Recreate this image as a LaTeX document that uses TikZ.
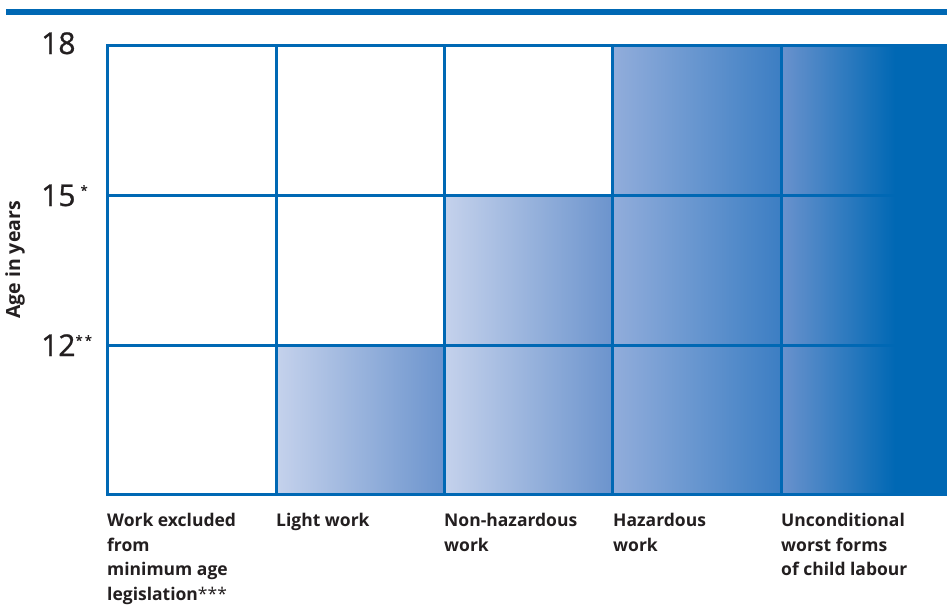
\documentclass[tikz,border=0pt]{standalone}
\usepackage{fontspec}
\setmainfont{Open Sans}
\newfontfamily\numfont[FakeBold=0.9]{Open Sans}
\definecolor{ilo}{HTML}{0068B4}
\definecolor{txt}{HTML}{231F20}
\definecolor{ga}{HTML}{C5D2EC}
\definecolor{gb}{HTML}{6C94CD}
\definecolor{gc}{HTML}{92ADDB}
\definecolor{gd}{HTML}{3C7EC3}
\definecolor{ge}{HTML}{6A92CD}
\tikzset{
  gridline/.style={draw=ilo, line width=3pt},
  agelabel/.style={text=txt, inner sep=0pt, font=\numfont\fontsize{30}{30}\selectfont},
  collabel/.style={text=txt, inner sep=0pt, anchor=north west, align=left,
    font=\fontsize{17.5}{24.7}\selectfont\bfseries},
}
\begin{document}
\begin{tikzpicture}[x=1pt,y=-1pt]
\useasboundingbox (0,0) rectangle (947,605);
\fill[white] (0,0) rectangle (947,605);
% top bar
\fill[ilo] (6,8.5) rectangle (947,14.5);
% shaded cells
\shade[left color=ga, right color=gb] (276,345) rectangle (444,494);
\shade[left color=ga, right color=gb] (444,195) rectangle (612,494);
\shade[left color=gc, right color=gd] (612,45) rectangle (781,494);
\shade[left color=ge, right color=ilo] (781,45) rectangle (895,494);
\fill[ilo] (894.5,45) rectangle (947,494);
% grid
\draw[gridline] (947,45) -- (107,45) -- (107,494) -- (947,494);
\foreach \x in {276,444,612,781} \draw[gridline] (\x,45) -- (\x,494);
\foreach \y in {195,345} \draw[gridline] (107,\y) -- (947,\y);
% age labels
\node[agelabel, anchor=base west] (a18) at (41,54) {18};
\node[agelabel, anchor=base west] (a15) at (41,206) {15\,\raisebox{11pt}{\fontsize{13}{13}\selectfont *}};
\node[agelabel, anchor=base west] (a12) at (41,356) {12\raisebox{11pt}{\fontsize{13}{13}\selectfont *\,*}};
\node[text=txt, rotate=90, font=\fontsize{19.5}{19.5}\selectfont\bfseries] (axis) at (15,260) {Age in years};
% column labels
\node[collabel] (c1) at (107,513) {Work excluded\\from\\minimum age\\legislation{\mdseries***}};
\node[collabel] (c2) at (276,513) {Light work};
\node[collabel] (c3) at (444,513) {Non-hazardous\\work};
\node[collabel] (c4) at (613,513) {Hazardous\\work};
\node[collabel] (c5) at (781,513) {Unconditional\\worst forms\\of child labour};
\end{tikzpicture}
\end{document}
